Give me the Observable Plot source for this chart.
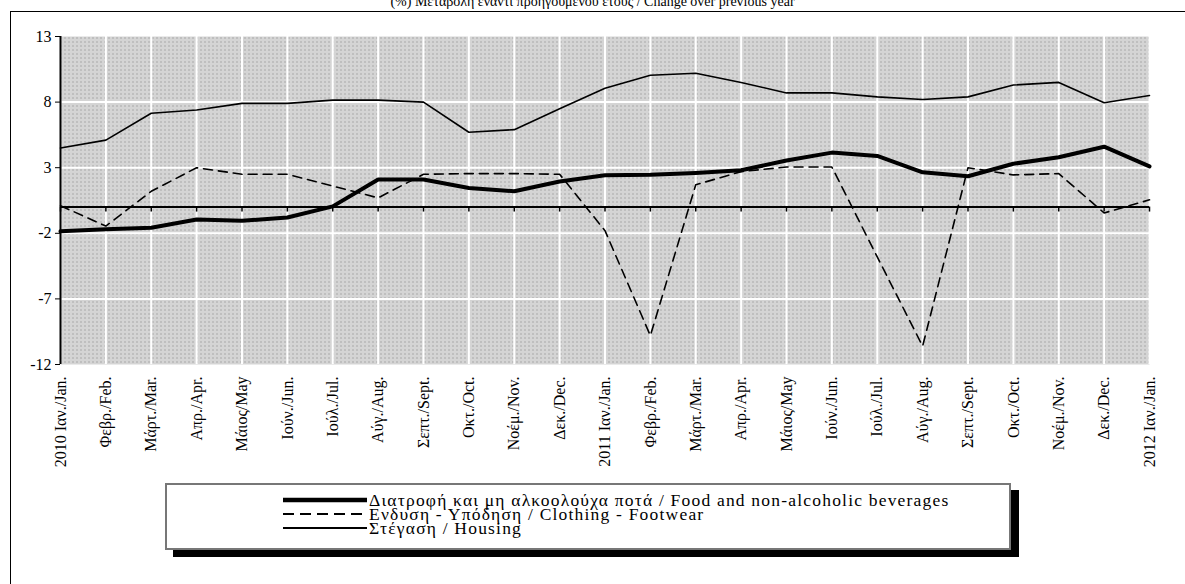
<!DOCTYPE html>
<html>
<head>
<meta charset="utf-8">
<script src="https://cdn.jsdelivr.net/npm/d3@7"></script>
<script src="https://cdn.jsdelivr.net/npm/@observablehq/plot@0.6"></script>
<style>
  html, body { margin: 0; padding: 0; background: #fff; overflow: hidden; }
  body { width: 1185px; height: 584px; position: relative; font-family: "Liberation Serif", "Times New Roman", serif; }
  #frame { position: absolute; left: 10px; top: 11px; width: 1300px; height: 700px; border-left: 1.5px solid #000; border-top: 1.5px solid #000; }
  #title { position: absolute; left: 0; width: 1185px; top: -6px; text-align: center; font-size: 14px; line-height: 16px; }
  #chart { position: absolute; left: 0; top: 0; }
  #legend { position: absolute; left: 165px; top: 483px; width: 846px; height: 67px; border: 2px solid #777; background: #fff; box-shadow: 8px 7px 0 #000; box-sizing: border-box; font-family: "Liberation Serif", serif; }
  .row { position: absolute; left: 116px; height: 14px; font-size: 17.5px; line-height: 14px; letter-spacing: 1.2px; white-space: nowrap; display: flex; align-items: center; }
  .row svg { margin-right: 2px; }
</style>
</head>
<body>
<div id="frame"></div>
<div id="chart"></div>
<div id="title">(%) Μεταβολή έναντι προηγούμενου έτους / Change over previous year</div>
<div id="legend"></div>
<script>
const months = ["2010 Ιαν./Jan.","Φεβρ./Feb.","Μάρτ./Mar.","Απρ./Apr.","Μάιος/May","Ιούν./Jun.","Ιούλ./Jul.","Αύγ./Aug.","Σεπτ./Sept.","Οκτ./Oct.","Νοέμ./Nov.","Δεκ./Dec.",
  "2011 Ιαν./Jan.","Φεβρ./Feb.","Μάρτ./Mar.","Απρ./Apr.","Μάιος/May","Ιούν./Jun.","Ιούλ./Jul.","Αύγ./Aug.","Σεπτ./Sept.","Οκτ./Oct.","Νοέμ./Nov.","Δεκ./Dec.","2012 Ιαν./Jan."];
const food = [-1.85,-1.7,-1.57,-0.95,-1.05,-0.8,0.05,2.1,2.1,1.45,1.2,1.95,2.42,2.47,2.6,2.8,3.55,4.15,3.9,2.65,2.35,3.3,3.8,4.6,3.1];
const clothing = [0.1,-1.45,1.2,3.0,2.5,2.5,1.6,0.7,2.5,2.55,2.55,2.5,-1.8,-9.8,1.7,2.7,3.05,3.05,-3.8,-10.6,3.0,2.45,2.55,-0.45,0.55];
const housing = [4.5,5.1,7.15,7.4,7.9,7.9,8.15,8.15,8.0,5.7,5.9,7.5,9.05,10.05,10.2,9.5,8.7,8.7,8.4,8.2,8.4,9.3,9.5,7.95,8.5];
const yTicks = [13,8,3,-2,-7,-12];
const gridY = [8,3,-2,-7];
const seriesNames = ["Διατροφή και μη αλκοολούχα ποτά / Food and non-alcoholic beverages","Ενδυση - Υπόδηση / Clothing - Footwear","Στέγαση / Housing"];

const idx = d3.range(months.length);

const chart = Plot.plot({
  width: 1185,
  height: 480,
  marginLeft: 60,
  marginRight: 36,
  marginTop: 36,
  marginBottom: 116,
  style: { fontFamily: "Liberation Serif, Times New Roman, serif", fontSize: "14px", color: "#000", background: "transparent" },
  x: { domain: [0, months.length - 1] },
  y: { domain: [-12, 13] },
  marks: [
    Plot.frame({ fill: "url(#dots)", stroke: null }),
    Plot.ruleX(idx, { stroke: "#fff", strokeWidth: 2 }),
    Plot.ruleY(gridY, { stroke: "#fff", strokeWidth: 2 }),
    Plot.ruleY([0], { stroke: "#000", strokeWidth: 2 }),
    Plot.ruleX(idx, { y1: 0, y2: -0.38, stroke: "#000", strokeWidth: 1.5 }),
    Plot.ruleX([0], { stroke: "#000", strokeWidth: 2 }),
    Plot.line(housing, { x: (d, i) => i, y: d => d, stroke: "#000", strokeWidth: 1.6 }),
    Plot.line(clothing, { x: (d, i) => i, y: d => d, stroke: "#000", strokeWidth: 1.6, strokeDasharray: "9,6" }),
    Plot.line(food, { x: (d, i) => i, y: d => d, stroke: "#000", strokeWidth: 4 }),
    Plot.axisY({ ticks: yTicks, tickSize: 5, tickPadding: 4, fontSize: 16, tickFormat: d => String(d) }),
    Plot.axisX({ ticks: idx, tickFormat: i => months[i], tickRotate: -90, tickSize: 0, tickPadding: 12, fontSize: 16 })
  ]
});

const ns = "http://www.w3.org/2000/svg";
const defs = document.createElementNS(ns, "defs");
defs.innerHTML = `<pattern id="dots" width="4" height="4" patternUnits="userSpaceOnUse">
  <rect width="4" height="4" fill="#fff"/>
  <rect x="0" y="0" width="1" height="1" fill="#555"/>
  <rect x="2" y="0" width="1" height="1" fill="#555"/>
  <rect x="1" y="2" width="1" height="1" fill="#555"/>
  <rect x="3" y="2" width="1" height="1" fill="#555"/>
  <rect x="0" y="1" width="1" height="1" fill="#aaa"/>
</pattern>`;
chart.insertBefore(defs, chart.firstChild);
document.getElementById("chart").appendChild(chart);

const legend = document.getElementById("legend");
const styles = [
  { w: 4.5, dash: null },
  { w: 2, dash: "11,6" },
  { w: 2, dash: null }
];
seriesNames.forEach((name, k) => {
  const row = document.createElement("div");
  row.className = "row";
  row.style.top = (8 + k * 14) + "px";
  const s = styles[k];
  row.innerHTML = `<svg width="84" height="14"><line x1="0" x2="84" y1="7" y2="7" stroke="#000" stroke-width="${s.w}" ${s.dash ? `stroke-dasharray="${s.dash}"` : ""}/></svg><span>${name}</span>`;
  legend.appendChild(row);
});
</script>
</body>
</html>
